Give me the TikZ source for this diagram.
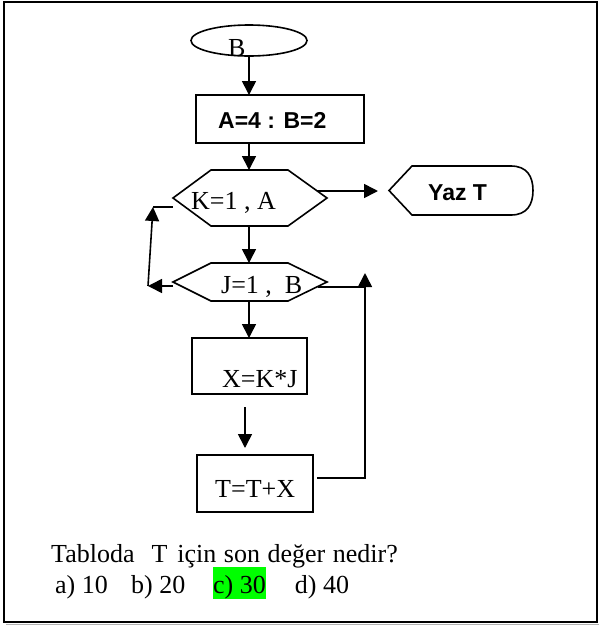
\documentclass[tikz,border=0pt]{standalone}
\usepackage{fontspec}
\setmainfont{Liberation Serif}
\setsansfont{Liberation Sans}
\usetikzlibrary{arrows.meta,shapes.geometric,calc}
\definecolor{hl}{RGB}{0,255,0}
\begin{document}
\begin{tikzpicture}[x=1pt,y=-1pt,
  ln/.style={line width=1.6pt},
  arr/.style={ln,-{Triangle[length=14pt,width=14pt]}},
  bbox/.style={rectangle,inner sep=0pt,outer sep=0pt},
  txt/.style={inner sep=0pt,anchor=base west,font=\fontsize{26pt}{30pt}\selectfont},
  btxt/.style={inner sep=0pt,anchor=base west,font=\fontsize{23pt}{27pt}\selectfont\sffamily\bfseries}]
\useasboundingbox (0,0) rectangle (599,625);
\fill[white] (0,0) rectangle (599,625);
\draw[line width=1.6pt] (4,2) rectangle (597,622);
\draw[gray!60,line width=1pt] (6,624) -- (599,624);

% start ellipse
\node[ellipse,draw,ln,minimum width=116pt,minimum height=31pt,inner sep=0pt] (S) at (249,40.5) {};
\node[txt] (St) at (228,56) {B};

% A=4 : B=2
\node[bbox,draw,ln,minimum width=168pt,minimum height=48pt] (A) at (280,119) {};
\node[btxt] (At) at (218,128) {A=4 : B=2};

% K loop hexagon
\node[bbox,minimum width=154pt,minimum height=56pt] (K) at (250,198) {};
\draw[ln] (K.west) -- ($(K.north west)+(38,0)$) -- ($(K.north east)+(-39,0)$) -- (K.east) -- ($(K.south east)+(-39,0)$) -- ($(K.south west)+(38,0)$) -- cycle;
\node[txt] (Kt) at (191,209) {K=1 , A};

% J loop hexagon
\node[bbox,minimum width=154pt,minimum height=38pt] (J) at (250,282) {};
\draw[ln] (J.west) -- ($(J.north west)+(38,0)$) -- ($(J.north east)+(-39,0)$) -- (J.east) -- ($(J.south east)+(-39,0)$) -- ($(J.south west)+(38,0)$) -- cycle;
\node[txt] (Jt) at (221,293) {J=1 ,\ \ B};

% X box
\node[bbox,draw,ln,minimum width=115pt,minimum height=56pt] (X) at (249.5,366) {};
\node[txt] (Xt) at (222,387) {X=K*J};

% T box
\node[bbox,draw,ln,minimum width=116pt,minimum height=57pt] (T) at (255,483.5) {};
\node[txt] (Tt) at (215,497) {T=T+X};

% Yaz T display
\node[bbox,minimum width=144pt,minimum height=49pt] (Y) at (461,190.5) {};
\draw[ln] (Y.west) -- ($(Y.north west)+(23,0)$) -- ($(Y.north east)+(-22,0)$)
  .. controls ($(Y.north east)+(-6,0)$) and ($(Y.east)+(0,-14)$) .. (Y.east)
  .. controls ($(Y.east)+(0,14)$) and ($(Y.south east)+(-6,0)$) .. ($(Y.south east)+(-22,0)$)
  -- ($(Y.south west)+(23,0)$) -- cycle;
\node[btxt] (Yt) at (428,200) {Yaz T};

% connectors
\draw[arr] (S.south) -- (S.south |- A.north);
\draw[arr] (S.south |- A.south) -- (S.south |- K.north);
\draw[arr] (S.south |- K.south) -- (S.south |- J.north);
\draw[arr] (S.south |- J.south) -- (S.south |- X.north);

\coordinate (x1) at (245,407);
\draw[arr,shorten >=7pt] (x1) -- (x1 |- T.north);

\coordinate (k1) at (317,191);
\draw[arr,shorten >=11pt] (k1) -- (k1 -| Y.west);

\coordinate (j1) at (173,286);
\coordinate (l1) at (148,286);
\coordinate (l2) at (153,207);
\coordinate (k2) at (173,207);
\draw[arr] (j1) -- (l1);
\draw[arr] (l1) -- (l2);
\draw[ln] (l2) -- (k2);

\coordinate (t1) at (317,478);
\coordinate (r1) at (365,273);
\coordinate (j2) at (318,287);
\draw[arr] (t1) -- (t1 -| r1) -- (r1);
\draw[ln] (j2) -- (j2 -| r1);

% question
\node[txt] (Q) at (51,562) {\spaceskip=7.5pt Tabloda\hspace{17pt}T\hspace{10pt}için son değer nedir?};
\node[txt] (O) at (55,593) {\setlength{\fboxsep}{0pt}a) 10\hspace{23.3pt}b) 20\hspace{27.8pt}\colorbox{hl}{\rule[-4pt]{0pt}{30pt}c) 30}\hspace{29pt}d) 40};
\end{tikzpicture}
\end{document}
